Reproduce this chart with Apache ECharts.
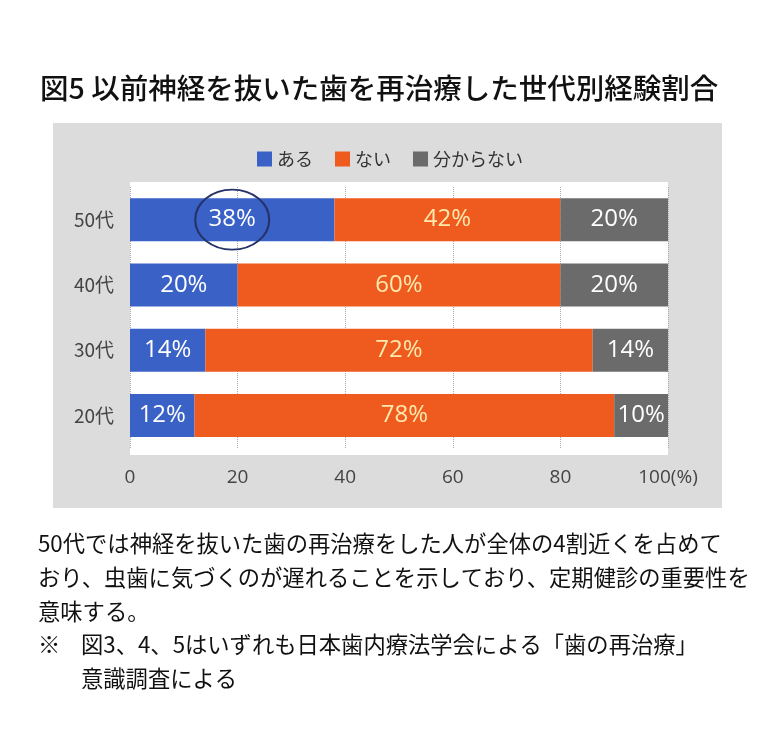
<!DOCTYPE html>
<html>
<head>
<meta charset="utf-8">
<script src="https://cdn.jsdelivr.net/npm/echarts@6/dist/echarts.min.js"></script>
<style>
  html, body { margin: 0; padding: 0; background: #fff; }
  #main { width: 760px; height: 753px; }
</style>
</head>
<body>
<div id="main"></div>
<script>
// 世代別データ（上から50代）
const ages = ['50代', '40代', '30代', '20代'];
const aru = [38, 20, 14, 12];
const nai = [42, 60, 72, 78];
const wakaranai = [20, 20, 14, 10];
const seriesNames = ['ある', 'ない', '分からない'];

const titleText = '図5 以前神経を抜いた歯を再治療した世代別経験割合';
const bodyLines = [
  '50代では神経を抜いた歯の再治療をした人が全体の4割近くを占めて',
  'おり、虫歯に気づくのが遅れることを示しており、定期健診の重要性を',
  '意味する。'
];
const noteLines = [
  '図3、4、5はいずれも日本歯内療法学会による「歯の再治療」',
  '意識調査による'
];

const JP = '"Noto Sans CJK JP", "Noto Sans", sans-serif';
const NUM = '"Open Sans", "Noto Sans", sans-serif';

let myChart = echarts.init(document.getElementById('main'));

function barLabel(color) {
  return {
    show: true,
    position: 'inside',
    formatter: '{c}%',
    color: color,
    fontSize: 24,
    fontFamily: NUM
  };
}

let option = {
  animation: false,
  title: {
    text: titleText,
    left: 35,
    top: 69,
    textStyle: { fontFamily: JP, fontSize: 28.5, fontWeight: 500, color: '#111' }
  },
  legend: {
    data: seriesNames,
    left: 252,
    top: 145,
    icon: 'rect',
    itemWidth: 15,
    itemHeight: 15,
    itemGap: 22,
    textStyle: { fontFamily: JP, fontSize: 18, color: '#333' }
  },
  grid: { left: 130, right: 92, top: 187, bottom: 305 },
  xAxis: {
    type: 'value',
    min: 0,
    max: 100,
    interval: 20,
    axisLine: { show: false },
    axisTick: { show: false },
    splitLine: { show: true, lineStyle: { type: 'dotted', color: '#aaa', width: 1 } },
    axisLabel: {
      margin: 20,
      fontFamily: NUM,
      fontSize: 19,
      color: '#444',
      formatter: v => v === 100 ? '100(%)' : String(v)
    }
  },
  yAxis: {
    type: 'category',
    data: ages,
    inverse: true,
    axisLine: { show: false },
    axisTick: { show: false },
    axisLabel: { margin: 16, fontFamily: JP, fontSize: 19, color: '#444' }
  },
  graphic: [
    { type: 'rect', z: -20, shape: { x: 53, y: 123, width: 669, height: 385 }, style: { fill: '#dcdcdc' } },
    { type: 'rect', z: -10, shape: { x: 130, y: 182, width: 538, height: 273 }, style: { fill: '#ffffff' } },
    {
      type: 'group', left: 38, top: 532,
      children: bodyLines.map((t, i) => ({
        type: 'text', x: 0, y: i * 34,
        style: { text: t, font: '22.3px ' + JP, fill: '#111' }
      })).concat([
        { type: 'text', x: 0, y: 101, style: { text: '※', font: '22.3px ' + JP, fill: '#111' } }
      ]).concat(noteLines.map((t, i) => ({
        type: 'text', x: 43, y: 101 + i * 34,
        style: { text: t, font: '22.3px ' + JP, fill: '#111' }
      })))
    }
  ],
  series: [
    {
      name: seriesNames[0], type: 'bar', stack: 'total', barWidth: 43,
      itemStyle: { color: '#3a62c6' },
      label: barLabel('#ffffff'),
      data: aru,
      markPoint: {
        symbol: 'circle',
        symbolSize: [74, 60],
        silent: true,
        label: { show: false },
        itemStyle: { color: 'rgba(0,0,0,0)', borderColor: '#26336a', borderWidth: 2 },
        data: [{ coord: [aru[0] / 2, ages[0]] }]
      }
    },
    {
      name: seriesNames[1], type: 'bar', stack: 'total', barWidth: 43,
      itemStyle: { color: '#ef5a1e' },
      label: barLabel('#ffe9ad'),
      data: nai
    },
    {
      name: seriesNames[2], type: 'bar', stack: 'total', barWidth: 43,
      itemStyle: { color: '#6b6b6b' },
      label: barLabel('#ffffff'),
      data: wakaranai
    }
  ]
};
myChart.setOption(option);
</script>
</body>
</html>
